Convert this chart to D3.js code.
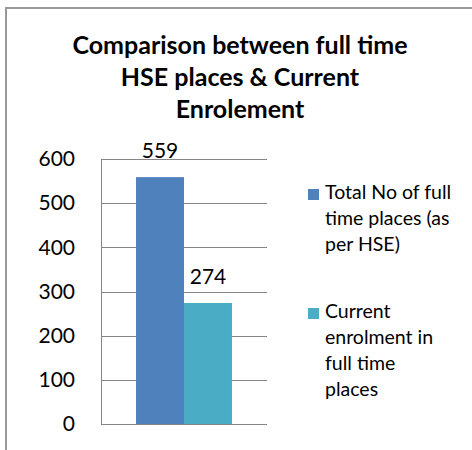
<!DOCTYPE html>
<html>
<head>
<meta charset="utf-8">
<script src="https://cdn.jsdelivr.net/npm/d3@7"></script>
<style>
  body { margin: 0; background: #fff; }
  svg { display: block; }
</style>
</head>
<body>
<svg id="chart" width="472" height="450"></svg>
<script>
'use strict';

// data
var categories = ["Places"];
var seriesNames = ["Total No of full time places (as per HSE)", "Current enrolment in full time places"];
var seriesValues = [559, 274];
var seriesColors = ["#4F81BD", "#4BACC6"];
var legendLines = [["Total No of full", "time places (as", "per HSE)"], ["Current", "enrolment in", "full time", "places"]];
var titleLines = ["Comparison between full time", "HSE places & Current", "Enrolement"];
var yTicks = [0, 100, 200, 300, 400, 500, 600];

var svg = d3.select("#chart");
var font = "Lato, 'Open Sans', sans-serif";
var plot = {left: 101, right: 267, top: 159, bottom: 424};

// outer frame (only top + left edge visible in the crop)
svg.append("path")
  .attr("d", "M6,450 L6,8 L472,8")
  .attr("fill", "none")
  .attr("stroke", "#9a9a9a")
  .attr("stroke-width", 2);

// title
svg.append("g").selectAll("text").data(titleLines).enter().append("text")
  .attr("x", 240)
  .attr("y", function(d, i){ return 54 + i * 32; })
  .attr("text-anchor", "middle")
  .style("font-family", font)
  .style("font-weight", "bold")
  .style("font-size", "25px")
  .style("fill", "#000")
  .text(function(d){ return d; });

var y = d3.scaleLinear().domain([0, 600]).range([plot.bottom, plot.top]);
var x0 = d3.scaleBand().domain(categories).range([plot.left, plot.right]).paddingInner(0).paddingOuter(0.365);
var x1 = d3.scaleBand().domain(d3.range(seriesValues.length)).range([0, x0.bandwidth()]);

// gridlines
svg.append("g").selectAll("line").data(yTicks.slice(1)).enter().append("line")
  .attr("x1", plot.left).attr("x2", plot.right)
  .attr("y1", function(d){ return Math.round(y(d)) + 0.5; })
  .attr("y2", function(d){ return Math.round(y(d)) + 0.5; })
  .attr("stroke", "#868686").attr("stroke-width", 1);

// bars
var g = svg.append("g").attr("transform", "translate(" + x0(categories[0]) + ",0)");
g.selectAll("rect").data(seriesValues).enter().append("rect")
  .attr("x", function(d, i){ return x1(i); })
  .attr("width", x1.bandwidth())
  .attr("y", function(d){ return y(d); })
  .attr("height", function(d){ return y(0) - y(d); })
  .attr("fill", function(d, i){ return seriesColors[i]; });

// data labels
g.selectAll("text.lbl").data(seriesValues).enter().append("text")
  .attr("class", "lbl")
  .attr("x", function(d, i){ return x1(i) + x1.bandwidth() / 2; })
  .attr("y", function(d){ return y(d) - 19; })
  .attr("text-anchor", "middle")
  .style("font-family", font)
  .style("font-size", "21px")
  .style("fill", "#000")
  .text(function(d){ return d; });

// y axis
var yAxis = d3.axisLeft(y).tickValues(yTicks).tickSize(0).tickPadding(26);
var ax = svg.append("g").attr("transform", "translate(" + plot.left + ",0)").call(yAxis);
ax.select(".domain").attr("stroke", "#868686");
ax.selectAll("text")
  .style("font-family", font)
  .style("font-size", "21px")
  .style("fill", "#000");

// baseline
svg.append("line")
  .attr("x1", plot.left).attr("x2", plot.right)
  .attr("y1", y(0) + 0.5).attr("y2", y(0) + 0.5)
  .attr("stroke", "#868686");

// legend
var legendTop = [199, 318];
var leg = svg.append("g").selectAll("g").data(seriesNames).enter().append("g");
leg.append("rect")
  .attr("x", 308)
  .attr("y", function(d, i){ return legendTop[i] - 10; })
  .attr("width", 11).attr("height", 11)
  .attr("fill", function(d, i){ return seriesColors[i]; });
leg.each(function(d, i){
  d3.select(this).selectAll("text").data(legendLines[i]).enter().append("text")
    .attr("x", 325)
    .attr("y", function(t, j){ return legendTop[i] + j * 26; })
    .style("font-family", font)
    .style("font-size", "19.5px")
    .style("fill", "#000")
    .text(function(t){ return t; });
});
</script>
</body>
</html>
